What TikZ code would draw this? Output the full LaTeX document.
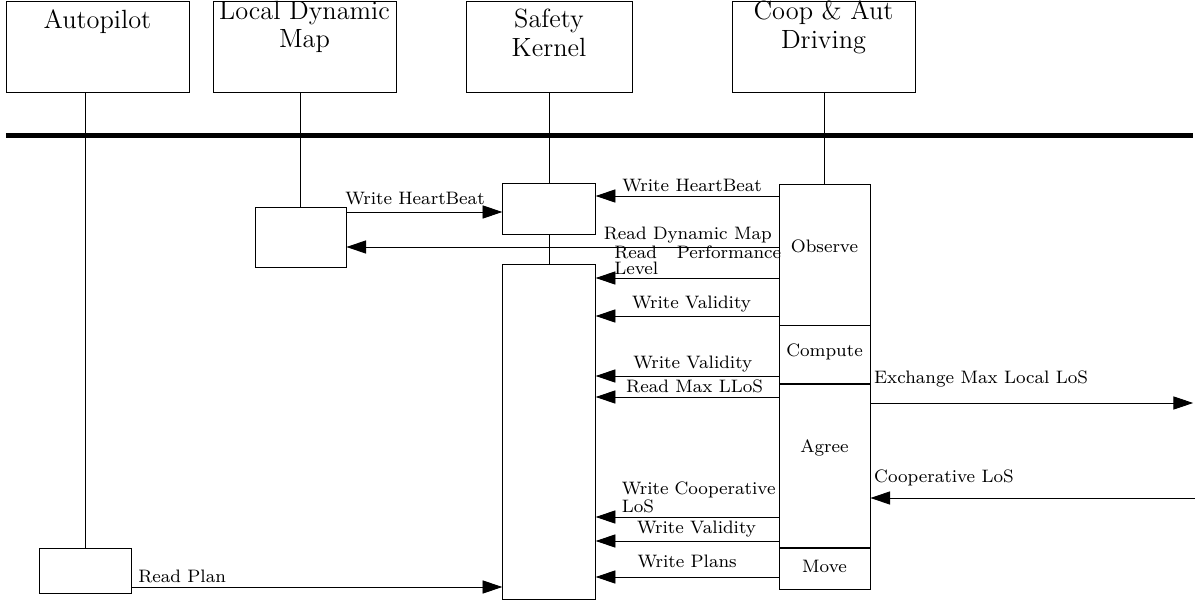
\documentclass[tikz,border=0pt]{standalone}
\usepackage{tikz}
\usetikzlibrary{positioning, arrows.meta}

\begin{document}
\begin{tikzpicture}[
  party/.style={draw, rectangle, minimum width=2.928cm, minimum height=1.456cm, inner sep=0pt},
  partytext/.style={anchor=north, align=center, inner sep=0pt, font=\fontsize{12}{13}\selectfont},
  act/.style={draw, rectangle, minimum width=1.456cm, inner sep=0pt},
  phase/.style={font=\fontsize{8.2}{9}\selectfont},
  msg/.style={-{Triangle[length=9pt,width=6pt]}},
  lbl/.style={font=\fontsize{8.2}{7.3}\selectfont, inner sep=1.5pt},
]
\useasboundingbox (0,0) rectangle (19.12,9.616);

% components on the bus
\node[party] (ap) at (1.56,8.872) {};
\node[party] (ldm) at (4.872,8.872) {};
\node[party, minimum width=2.656cm] (sk) at (8.784,8.872) {};
\node[party] (cad) at (13.176,8.872) {};
\node[partytext, yshift=-0.14cm] (aptext) at (ap.north) {Autopilot};
\node[partytext] (ldmtext) at (ldm.north) {Local Dynamic\\Map};
\node[partytext, yshift=-0.13cm] (sktext) at (sk.north) {Safety\\Kernel};
\node[partytext] (cadtext) at (cad.north) {Coop \& Aut\\Driving};

\draw[line width=2pt] (0.096,7.448) -- (19.088,7.448);

% activations
\node[act, minimum width=1.472cm, minimum height=0.72cm] (ap1) at (1.36,0.488) {};
\node[act, minimum height=0.96cm] (ldm1) at (4.808,5.824) {};
\node[act, minimum width=1.48cm, minimum height=0.816cm] (sk1) at (8.784,6.28) {};
\node[act, minimum width=1.48cm, minimum height=5.36cm] (sk2) at (8.784,2.712) {};

\node[act, minimum height=2.256cm] (observe) at (13.192,5.544) {};
\node[act, minimum height=0.928cm, below=0pt of observe] (compute) {};
\node[act, minimum height=2.608cm, below=0pt of compute] (agree) {};
\node[act, minimum height=0.656cm, below=0pt of agree] (move) {};
\node[phase, yshift=0.136cm] (observetext) at (observe) {Observe};
\node[phase, yshift=0.05cm] (computetext) at (compute) {Compute};
\node[phase, yshift=0.3cm] (agreetext) at (agree) {Agree};
\node[phase, yshift=0.04cm] (movetext) at (move) {Move};

% lifelines
\draw (ap1.north) -- (ap1.north |- ap.south);
\draw (ldm1.north) -- (ldm1.north |- ldm.south);
\draw (sk1.north) -- (sk.south);
\draw (sk1.south) -- (sk2.north);
\draw (observe.north) -- (observe.north |- cad.south);

\coordinate (peerout) at (19.09,3.168);
\coordinate (peerin) at (19.12,1.648);

% messages
\draw[msg] (ldm1.east |- 0,6.224) -- node[lbl, above, xshift=-0.15cm, yshift=0.05cm] {Write HeartBeat} (sk1.west |- 0,6.224);
\draw[msg] (observe.west |- 0,6.48) -- node[lbl, above, xshift=0.08cm] {Write HeartBeat} (sk1.east |- 0,6.48);
\draw[msg] (observe.west |- 0,5.664) -- node[lbl, above, pos=0.21] {Read Dynamic Map} (ldm1.east |- 0,5.664);
\draw[msg] (observe.west |- 0,5.168) -- node[lbl, above, xshift=0.17cm, text width=76pt, align=left] {Read\hfill Performance\\Level} (sk2.east |- 0,5.168);
\draw[msg] (observe.west |- 0,4.56) -- node[lbl, above, xshift=0.07cm] {Write Validity} (sk2.east |- 0,4.56);
\draw[msg] (compute.west |- 0,3.6) -- node[lbl, above, xshift=0.09cm] {Write Validity} (sk2.east |- 0,3.6);
\draw[msg] (agree.west |- 0,3.264) -- node[lbl, above, xshift=0.12cm] {Read Max LLoS} (sk2.east |- 0,3.264);
\draw[msg] (agree.east |- 0,3.168) -- node[lbl, pos=0, above right, yshift=0.19cm] {Exchange Max Local LoS} (peerout);
\draw[msg] (peerin) -- node[lbl, pos=1, above right, yshift=0.14cm] {Cooperative LoS} (agree.east |- 0,1.648);
\draw[msg] (agree.west |- 0,1.344) -- node[lbl, above, xshift=0.22cm, text width=72pt, align=left] {Write Cooperative\\LoS} (sk2.east |- 0,1.344);
\draw[msg] (agree.west |- 0,0.96) -- node[lbl, above, xshift=0.15cm] {Write Validity} (sk2.east |- 0,0.96);
\draw[msg] (move.west |- 0,0.384) -- node[lbl, above, yshift=0.08cm] {Write Plans} (sk2.east |- 0,0.384);
\draw[msg] (ap1.east |- 0,0.224) -- node[lbl, pos=0, above right, xshift=0.05cm] {Read Plan} (sk2.west |- 0,0.224);
\end{tikzpicture}
\end{document}
